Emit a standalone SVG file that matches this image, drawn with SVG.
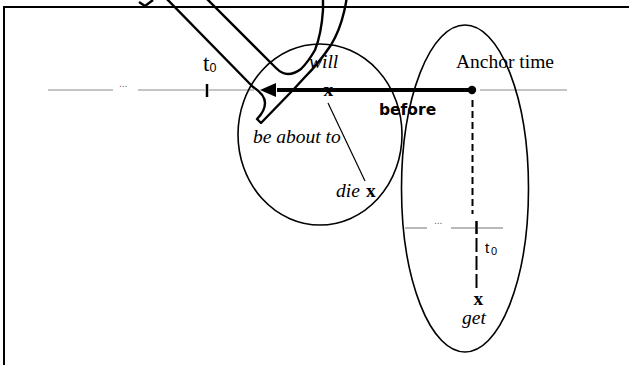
<svg xmlns="http://www.w3.org/2000/svg" width="629" height="365" viewBox="0 0 629 365">
<style>
.serif{font-family:"Liberation Serif","Times New Roman",serif;font-size:19.5px;fill:#000}
.it{font-style:italic}
.bx{font-weight:bold}
.sans{font-family:"Liberation Sans",Arial,sans-serif;fill:#000}
.gray{stroke:#8a8a8a;stroke-width:1.2;fill:none}
.dots{font-family:"Liberation Sans",Arial,sans-serif;font-size:10px;fill:#666}
.ell{fill:none;stroke:#000;stroke-width:1.6}
.shape{fill:none;stroke:#000;stroke-width:2.4;stroke-linejoin:round}
</style>
<rect width="629" height="365" fill="#fff"/>
<g id="frame">
<line x1="3" y1="7" x2="629" y2="7" stroke="#000" stroke-width="2"/>
<line x1="4" y1="7" x2="4" y2="365" stroke="#000" stroke-width="2"/>
</g>
<g id="connectors">
<line class="gray" x1="48" y1="90" x2="113" y2="90"/>
<line class="gray" x1="138" y1="90" x2="205" y2="90"/>
<line class="gray" x1="209" y1="90" x2="254" y2="90"/>
<line class="gray" x1="480" y1="90" x2="567" y2="90"/>
<line x1="207" y1="84" x2="207" y2="97" stroke="#000" stroke-width="2.5"/>
<line x1="277" y1="90" x2="470" y2="90" stroke="#000" stroke-width="4"/>
<polygon points="260,90 276,83 276,97" fill="#000"/>
<circle cx="472" cy="90" r="4.2" fill="#000"/>
<line x1="472.5" y1="100" x2="472.5" y2="214" stroke="#000" stroke-width="2" stroke-dasharray="7 4"/>
<line class="gray" x1="405" y1="228" x2="427" y2="228"/>
<line class="gray" x1="451" y1="228" x2="475" y2="228"/>
<line class="gray" x1="478" y1="228" x2="503" y2="228"/>
<line x1="476.5" y1="221" x2="476.5" y2="234" stroke="#000" stroke-width="2.5"/>
<line x1="476.5" y1="238" x2="476.5" y2="291" stroke="#000" stroke-width="2" stroke-dasharray="14 4"/>
<line x1="328" y1="103" x2="365" y2="181" stroke="#000" stroke-width="1.2"/>
</g>
<g id="ellipse-left"><ellipse class="ell" cx="320" cy="134.5" rx="82" ry="90.5"/></g>
<g id="ellipse-right"><ellipse class="ell" cx="465" cy="188.5" rx="63.5" ry="163.5"/></g>
<g id="uturn-arrow">
<path class="shape" d="M161,-7 L253,87 C261,92 265,97 265,103 C265,109 262,114 257,119 L261,123 L293,90 L305,77 C315,67 323,57 331,45 C337,35 341,25 344,12 C346,4 347,-2 347,-8"/>
<path class="shape" d="M201,-7 L276,68 C280,72 284,74 288,74 C293,74 297,72 301,69 C306,64 311,57 315,50 C319,40 322,25 323,10 L323,-8"/>
<polyline class="shape" points="139,2 145,6 153,0"/>
</g>
<g id="labels">
<text class="serif" x="203" y="71" style="font-size:23px">t</text><text class="sans" x="209.5" y="72" style="font-size:12.5px">0</text>
<text class="dots" x="119" y="87">...</text>
<text class="serif it" x="309" y="68">will</text>
<text class="serif bx" x="323.5" y="96">x</text>
<text class="serif" x="456" y="68">Anchor time</text>
<text x="379" y="115" font-family="'DejaVu Sans',Verdana,sans-serif" font-weight="bold" font-size="15.5">before</text>
<text class="serif it" x="253" y="143">be about to</text>
<text class="serif it" x="336" y="197">die</text><text class="serif bx" x="366" y="197">x</text>
<text class="dots" x="434" y="224">...</text>
<text class="sans" x="485" y="253" style="font-size:15px">t</text><text class="sans" x="491" y="255" style="font-size:11px">0</text>
<text class="serif bx" x="473.5" y="305">x</text>
<text class="serif it" x="462" y="324">get</text>
</g>
</svg>
